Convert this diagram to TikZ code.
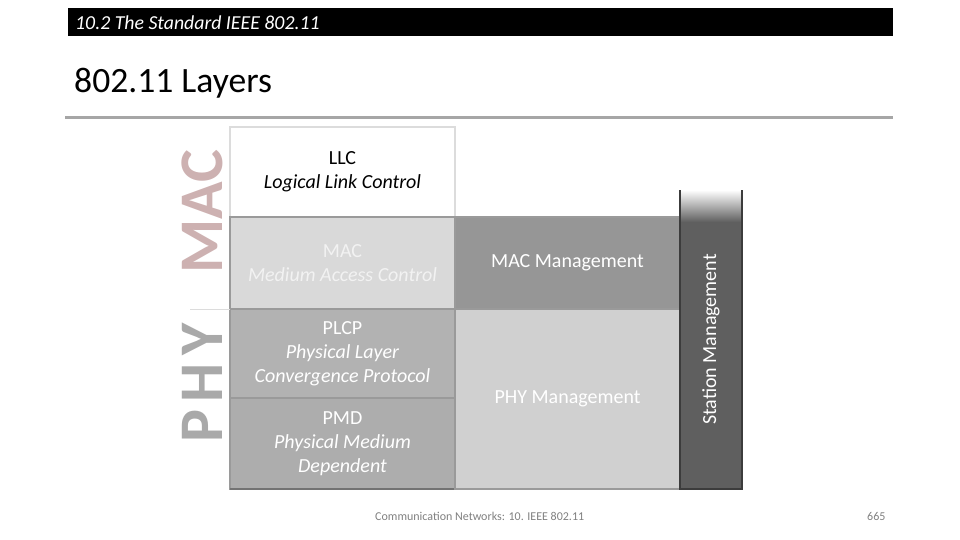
\documentclass[tikz,border=0pt]{standalone}
\usepackage{fontspec}
\setmainfont{Carlito}
\definecolor{rulegray}{HTML}{A6A6A6}
\definecolor{llcedge}{HTML}{DCDCDC}
\definecolor{boxedge}{HTML}{9A9A9A}
\definecolor{macfill}{HTML}{D9D9D9}
\definecolor{plcpfill}{HTML}{B2B2B2}
\definecolor{pmdfill}{HTML}{ADADAD}
\definecolor{macmfill}{HTML}{969696}
\definecolor{phymfill}{HTML}{D0D0D0}
\definecolor{statfill}{HTML}{5F5F5F}
\definecolor{statedge}{HTML}{3C3C3C}
\definecolor{maclabel}{HTML}{CDB1B1}
\definecolor{phylabel}{HTML}{A9A9A9}
\definecolor{footgray}{HTML}{808080}

\begin{document}
\begin{tikzpicture}[x=1pt,y=-1pt,
    layer/.style={draw=boxedge, line width=1.5pt, minimum width=225pt, inner sep=0pt,
      align=center, text=white, font=\fontsize{20}{24}\selectfont},
    sidelabel/.style={rotate=90, inner sep=0pt, font=\bfseries\fontsize{62}{62}\selectfont}]
  \useasboundingbox (0,0) rectangle (960,540);

  % header and title
  \fill[black] (68,8) rectangle (893,36);
  \node[anchor=base west, inner sep=0pt, text=white, font=\itshape\fontsize{19.8}{20}\selectfont] (hdr) at (75,30) {10.2 The Standard IEEE 802.11};
  \node[anchor=base west, inner sep=0pt, font=\fontsize{35.6}{36}\selectfont] (title) at (74,93) {802.11 Layers};
  \draw[rulegray, line width=3pt] (65,118) -- (893,118);

  % layer stack
  \node[layer, draw=llcedge, fill=white, text=black, minimum height=90pt] (llc) at (342.5,172) {LLC\\\textit{Logical Link Control}};
  \node[layer, fill=macfill, text=black!5, minimum height=92pt] (mac) at (342.5,263) {MAC\\\textit{Medium Access Control}};
  \node[layer, fill=plcpfill, minimum height=89pt] (plcp) at (342.5,353.5) {PLCP\\\textit{Physical Layer}\\\textit{Convergence Protocol}};
  \node[layer, fill=pmdfill, minimum height=91pt] (pmd) at (342.5,443.5) {PMD\\\textit{Physical Medium}\\\textit{Dependent}};
  \draw[black!55, line width=1.5pt] (230,489) -- (455,489);

  % management planes
  \node[layer, fill=macmfill, minimum height=92pt] (macm) at (567.5,263) {MAC Management};
  \node[layer, fill=phymfill, minimum height=180pt] (phym) at (567.5,399) {PHY Management};
  \node[fill=statfill, minimum width=62pt, minimum height=299pt, inner sep=0pt] (stat) at (711,339.5) {};
  \shade[top color=white, bottom color=statfill] (681,190) rectangle (741,222);
  \draw[statedge, line width=2pt] (680,190) -- (680,489) -- (742,489) -- (742,190);
  \node[rotate=90, text=white, font=\fontsize{20}{24}\selectfont] (statlbl) at (stat) {Station Management};

  % side labels
  \node[sidelabel, text=maclabel] (maclbl) at (202,212) {MAC};
  \node[sidelabel, text=phylabel] (phylbl) at (202,383) {\addfontfeature{LetterSpace=12}PHY};
  \draw[llcedge, line width=1pt] (190,309) -- (230,309);

  % footer
  \node[anchor=base west, inner sep=0pt, text=footgray, font=\fontsize{12}{12}\selectfont] (foot) at (375,520) {Communication Networks: 10. IEEE 802.11};
  \node[anchor=base west, inner sep=0pt, text=footgray, font=\fontsize{12}{12}\selectfont] (page) at (867,520) {665};
\end{tikzpicture}
\end{document}
